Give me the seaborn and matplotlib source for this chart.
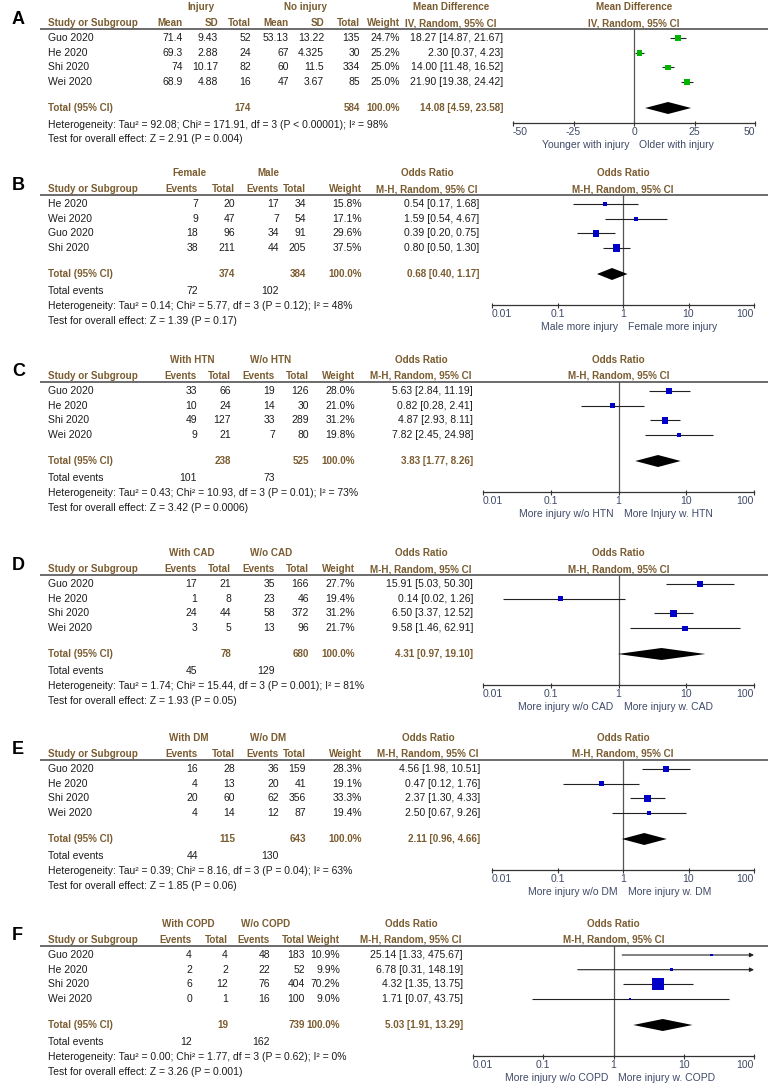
import matplotlib
matplotlib.use("Agg")
import matplotlib.pyplot as plt
from matplotlib.ticker import NullLocator
import seaborn as sns

# ---------------- data ----------------
# A: age
studies_a = ["Guo 2020", "He 2020", "Shi 2020", "Wei 2020"]
inj_mean = [71.4, 69.3, 74, 68.9]
inj_sd = [9.43, 2.88, 10.17, 4.88]
inj_n = [52, 24, 82, 16]
noinj_mean = [53.13, 67, 60, 47]
noinj_sd = [13.22, 4.325, 11.5, 3.67]
noinj_n = [135, 30, 334, 85]
weights_a = [24.7, 25.2, 25.0, 25.0]
md = [18.27, 2.30, 14.00, 21.90]
md_lo = [14.87, 0.37, 11.48, 19.38]
md_hi = [21.67, 4.23, 16.52, 24.42]
totals_a = [174, 584]
pooled_a = [14.08, 4.59, 23.58]
het_a = "Heterogeneity: Tau² = 92.08; Chi² = 171.91, df = 3 (P < 0.00001); I² = 98%"
test_a = "Test for overall effect: Z = 2.91 (P = 0.004)"

# B: sex
studies_b = ["He 2020", "Wei 2020", "Guo 2020", "Shi 2020"]
fem_ev = [7, 9, 18, 38]
fem_n = [20, 47, 96, 211]
male_ev = [17, 7, 34, 44]
male_n = [34, 54, 91, 205]
weights_b = [15.8, 17.1, 29.6, 37.5]
or_b = [0.54, 1.59, 0.39, 0.80]
lo_b = [0.17, 0.54, 0.20, 0.50]
hi_b = [1.68, 4.67, 0.75, 1.30]
totals_b = [374, 384]
events_b = [72, 102]
pooled_b = [0.68, 0.40, 1.17]
het_b = "Heterogeneity: Tau² = 0.14; Chi² = 5.77, df = 3 (P = 0.12); I² = 48%"
test_b = "Test for overall effect: Z = 1.39 (P = 0.17)"

studies = ["Guo 2020", "He 2020", "Shi 2020", "Wei 2020"]

# C: hypertension
htn_ev = [33, 10, 49, 9]
htn_n = [66, 24, 127, 21]
nohtn_ev = [19, 14, 33, 7]
nohtn_n = [126, 30, 289, 80]
weights_c = [28.0, 21.0, 31.2, 19.8]
or_c = [5.63, 0.82, 4.87, 7.82]
lo_c = [2.84, 0.28, 2.93, 2.45]
hi_c = [11.19, 2.41, 8.11, 24.98]
totals_c = [238, 525]
events_c = [101, 73]
pooled_c = [3.83, 1.77, 8.26]
het_c = "Heterogeneity: Tau² = 0.43; Chi² = 10.93, df = 3 (P = 0.01); I² = 73%"
test_c = "Test for overall effect: Z = 3.42 (P = 0.0006)"

# D: coronary artery disease
cad_ev = [17, 1, 24, 3]
cad_n = [21, 8, 44, 5]
nocad_ev = [35, 23, 58, 13]
nocad_n = [166, 46, 372, 96]
weights_d = [27.7, 19.4, 31.2, 21.7]
or_d = [15.91, 0.14, 6.50, 9.58]
lo_d = [5.03, 0.02, 3.37, 1.46]
hi_d = [50.30, 1.26, 12.52, 62.91]
totals_d = [78, 680]
events_d = [45, 129]
pooled_d = [4.31, 0.97, 19.10]
het_d = "Heterogeneity: Tau² = 1.74; Chi² = 15.44, df = 3 (P = 0.001); I² = 81%"
test_d = "Test for overall effect: Z = 1.93 (P = 0.05)"

# E: diabetes
dm_ev = [16, 4, 20, 4]
dm_n = [28, 13, 60, 14]
nodm_ev = [36, 20, 62, 12]
nodm_n = [159, 41, 356, 87]
weights_e = [28.3, 19.1, 33.3, 19.4]
or_e = [4.56, 0.47, 2.37, 2.50]
lo_e = [1.98, 0.12, 1.30, 0.67]
hi_e = [10.51, 1.76, 4.33, 9.26]
totals_e = [115, 643]
events_e = [44, 130]
pooled_e = [2.11, 0.96, 4.66]
het_e = "Heterogeneity: Tau² = 0.39; Chi² = 8.16, df = 3 (P = 0.04); I² = 63%"
test_e = "Test for overall effect: Z = 1.85 (P = 0.06)"

# F: COPD
copd_ev = [4, 2, 6, 0]
copd_n = [4, 2, 12, 1]
nocopd_ev = [48, 22, 76, 16]
nocopd_n = [183, 52, 404, 100]
weights_f = [10.9, 9.9, 70.2, 9.0]
or_f = [25.14, 6.78, 4.32, 1.71]
lo_f = [1.33, 0.31, 1.35, 0.07]
hi_f = [475.67, 148.19, 13.75, 43.75]
totals_f = [19, 739]
events_f = [12, 162]
pooled_f = [5.03, 1.91, 13.29]
het_f = "Heterogeneity: Tau² = 0.00; Chi² = 1.77, df = 3 (P = 0.62); I² = 0%"
test_f = "Test for overall effect: Z = 3.26 (P = 0.001)"

md_ticks = [-50, -25, 0, 25, 50]
or_ticks = [0.01, 0.1, 1, 10, 100]
or_tick_labels = ["0.01", "0.1", "1", "10", "100"]

# ---------------- style ----------------
sns.set_theme(style="white")
plt.rcParams["font.family"] = ["Liberation Sans", "DejaVu Sans"]

W, H = 768, 1086
TXT = "#1c1c1c"
HDR = "#7a5c30"
AXC = "#3f4a68"
FS = 7.5
FSB = 7.1

fig = plt.figure(figsize=(W / 100, H / 100), dpi=100)
tab = fig.add_axes([0, 0, 1, 1])
tab.set_xlim(0, W)
tab.set_ylim(H, 0)
tab.axis("off")


def txt(x, y, s, ha="left", color=TXT, bold=False):
    tab.text(x, y, s, ha=ha, va="center", color=color,
             fontsize=FSB if bold else FS,
             fontweight="bold" if bold else "normal")


def fmt_ci(e, l, h):
    return f"{e:.2f} [{l:.2f}, {h:.2f}]"


oddsratio = dict(kind="or", heads=["Events", "Total", "Events", "Total"],
                 tot_cols=[1, 3], hdr1="Odds Ratio", hdr2="M-H, Random, 95% CI",
                 color="#0000c8")

panels = [
    dict(letter="A", top=7, kind="md", studies=studies_a,
         cells=[inj_mean, inj_sd, inj_n, noinj_mean, noinj_sd, noinj_n],
         heads=["Mean", "SD", "Total", "Mean", "SD", "Total"], tot_cols=[2, 5],
         groups=["Injury", "No injury"], totals=totals_a, events=None,
         weights=weights_a, est=md, lo=md_lo, hi=md_hi, pooled=pooled_a,
         het=het_a, test=test_a, dirs=["Younger with injury", "Older with injury"],
         hdr1="Mean Difference", hdr2="IV, Random, 95% CI", color="#00b400",
         cols=[183, 218, 251, 289, 324, 360], wx=400, ex=503, gc=[201, 305],
         fx=(513, 755)),
    dict(oddsratio, letter="B", top=173, studies=studies_b,
         cells=[fem_ev, fem_n, male_ev, male_n], groups=["Female", "Male"],
         totals=totals_b, events=events_b, weights=weights_b, est=or_b, lo=lo_b,
         hi=hi_b, pooled=pooled_b, het=het_b, test=test_b,
         dirs=["Male more injury", "Female more injury"],
         cols=[198, 235, 279, 306], wx=362, ex=479, gc=[189, 268], fx=(492, 754)),
    dict(oddsratio, letter="C", top=360, studies=studies,
         cells=[htn_ev, htn_n, nohtn_ev, nohtn_n], groups=["With HTN", "W/o HTN"],
         totals=totals_c, events=events_c, weights=weights_c, est=or_c, lo=lo_c,
         hi=hi_c, pooled=pooled_c, het=het_c, test=test_c,
         dirs=["More injury w/o HTN", "More Injury w. HTN"],
         cols=[197, 231, 275, 309], wx=355, ex=473, gc=[192, 271], fx=(483, 754)),
    dict(oddsratio, letter="D", top=553, studies=studies,
         cells=[cad_ev, cad_n, nocad_ev, nocad_n], groups=["With CAD", "W/o CAD"],
         totals=totals_d, events=events_d, weights=weights_d, est=or_d, lo=lo_d,
         hi=hi_d, pooled=pooled_d, het=het_d, test=test_d,
         dirs=["More injury w/o CAD", "More injury w. CAD"],
         cols=[197, 231, 275, 309], wx=355, ex=473, gc=[192, 271], fx=(483, 754)),
    dict(oddsratio, letter="E", top=738, studies=studies,
         cells=[dm_ev, dm_n, nodm_ev, nodm_n], groups=["With DM", "W/o DM"],
         totals=totals_e, events=events_e, weights=weights_e, est=or_e, lo=lo_e,
         hi=hi_e, pooled=pooled_e, het=het_e, test=test_e,
         dirs=["More injury w/o DM", "More injury w. DM"],
         cols=[198, 235, 279, 306], wx=362, ex=480, gc=[189, 268], fx=(492, 754)),
    dict(oddsratio, letter="F", top=924, studies=studies,
         cells=[copd_ev, copd_n, nocopd_ev, nocopd_n], groups=["With COPD", "W/o COPD"],
         totals=totals_f, events=events_f, weights=weights_f, est=or_f, lo=lo_f,
         hi=hi_f, pooled=pooled_f, het=het_f, test=test_f,
         dirs=["More injury w/o COPD", "More injury w. COPD"],
         cols=[192, 228, 270, 305], wx=340, ex=463, gc=[188, 266], fx=(473, 754)),
]


def draw_panel(p):
    top = p["top"]
    h2 = top + 16
    line_y = top + 22
    rows = [top + 31 + 14.7 * i for i in range(len(p["studies"]))]
    tot_y = top + 101
    if p["events"] is None:
        het_y, test_y, axis_y = tot_y + 17, tot_y + 31, tot_y + 15
    else:
        ev_y = tot_y + 17
        het_y, test_y, axis_y = ev_y + 15, ev_y + 30, tot_y + 31
    cols = p["cols"]
    ec = p["ex"] - 52
    x0, x1 = p["fx"]
    fc = (x0 + x1) / 2

    # letter
    tab.text(12, top + 12, p["letter"], fontsize=13, fontweight="bold",
             color="black", va="center", ha="left")

    # headers
    for g, gx in zip(p["groups"], p["gc"]):
        txt(gx, top, g, ha="center", color=HDR, bold=True)
    txt(48, h2, "Study or Subgroup", color=HDR, bold=True)
    for hname, cx in zip(p["heads"], cols):
        txt(cx, h2, hname, ha="right", color=HDR, bold=True)
    txt(p["wx"], h2, "Weight", ha="right", color=HDR, bold=True)
    txt(ec, top, p["hdr1"], ha="center", color=HDR, bold=True)
    txt(ec, h2, p["hdr2"], ha="center", color=HDR, bold=True)
    txt(fc, top, p["hdr1"], ha="center", color=HDR, bold=True)
    txt(fc, h2, p["hdr2"], ha="center", color=HDR, bold=True)
    tab.plot([40, W], [line_y, line_y], color="#444444", lw=1.1,
             solid_capstyle="butt")

    # study rows
    for i, (name, y) in enumerate(zip(p["studies"], rows)):
        txt(48, y, name)
        for col, cx in zip(p["cells"], cols):
            txt(cx, y, str(col[i]), ha="right")
        txt(p["wx"], y, f"{p['weights'][i]:.1f}%", ha="right")
        txt(p["ex"], y, fmt_ci(p["est"][i], p["lo"][i], p["hi"][i]), ha="right")

    # totals
    txt(48, tot_y, "Total (95% CI)", color=HDR, bold=True)
    for t, ci in zip(p["totals"], p["tot_cols"]):
        txt(cols[ci], tot_y, str(t), ha="right", color=HDR, bold=True)
    txt(p["wx"], tot_y, "100.0%", ha="right", color=HDR, bold=True)
    txt(p["ex"], tot_y, fmt_ci(*p["pooled"]), ha="right", color=HDR, bold=True)
    if p["events"] is not None:
        txt(48, ev_y, "Total events")
        for e, cx in zip(p["events"], [cols[0], cols[2]]):
            txt(cx, ev_y, str(e), ha="right")
    txt(48, het_y, p["het"])
    txt(48, test_y, p["test"])

    # forest plot
    ax = fig.add_axes([x0 / W, 1 - axis_y / H, (x1 - x0) / W, (axis_y - line_y) / H])
    ax.patch.set_alpha(0)
    if p["kind"] == "or":
        ax.set_xscale("log")
        ticks, labels, null = or_ticks, or_tick_labels, 1
    else:
        ticks, labels, null = md_ticks, [str(t) for t in md_ticks], 0
    lim = (ticks[0], ticks[-1])
    ax.set_xlim(lim)
    ax.set_ylim(axis_y, line_y)
    ax.axvline(null, color="#555555", lw=0.9, zorder=1)

    for y, l, h in zip(rows, p["lo"], p["hi"]):
        if h > lim[1]:
            ax.annotate("", xy=(lim[1], y), xytext=(l, y),
                        arrowprops=dict(arrowstyle="-|>", color="#222222", lw=0.8,
                                        mutation_scale=6, shrinkA=0, shrinkB=0))
        else:
            ax.hlines(y, l, h, color="#222222", lw=0.8, zorder=2)

    sizes = [(0.72 * 0.5 * w ** 0.75) ** 2 for w in p["weights"]]
    sns.scatterplot(x=p["est"], y=rows, marker="s", s=sizes, color=p["color"],
                    edgecolor=p["color"], linewidth=0, ax=ax, legend=False, zorder=3)

    pe, pl, ph = p["pooled"]
    ax.fill([pl, pe, ph, pe], [tot_y, tot_y - 6, tot_y, tot_y + 6],
            color="black", lw=0, zorder=3)

    for s in ["top", "left", "right"]:
        ax.spines[s].set_visible(False)
    ax.spines["bottom"].set_color("#333333")
    ax.spines["bottom"].set_linewidth(0.9)
    ax.set_xticks(ticks)
    ax.set_xticklabels(labels)
    ax.xaxis.set_minor_locator(NullLocator())
    ax.set_yticks([])
    ax.grid(False)
    ax.tick_params(axis="x", direction="inout", length=3.6, width=0.8,
                   color="#333333", labelsize=FS, labelcolor=AXC, pad=1.2,
                   bottom=True)
    tl = ax.get_xticklabels()
    tl[0].set_ha("left")
    tl[-1].set_ha("right")
    ax.set_xlabel("")
    ax.set_ylabel("")

    dir_y = axis_y + 22
    ax.annotate(p["dirs"][0], xy=(null, dir_y), xycoords=(ax.transData, tab.transData),
                xytext=(-3.6, 0), textcoords="offset points", ha="right", va="center",
                fontsize=FS, color=AXC, annotation_clip=False)
    ax.annotate(p["dirs"][1], xy=(null, dir_y), xycoords=(ax.transData, tab.transData),
                xytext=(3.6, 0), textcoords="offset points", ha="left", va="center",
                fontsize=FS, color=AXC, annotation_clip=False)


for p in panels:
    draw_panel(p)

fig.savefig("out.png", dpi=100, facecolor="white")
